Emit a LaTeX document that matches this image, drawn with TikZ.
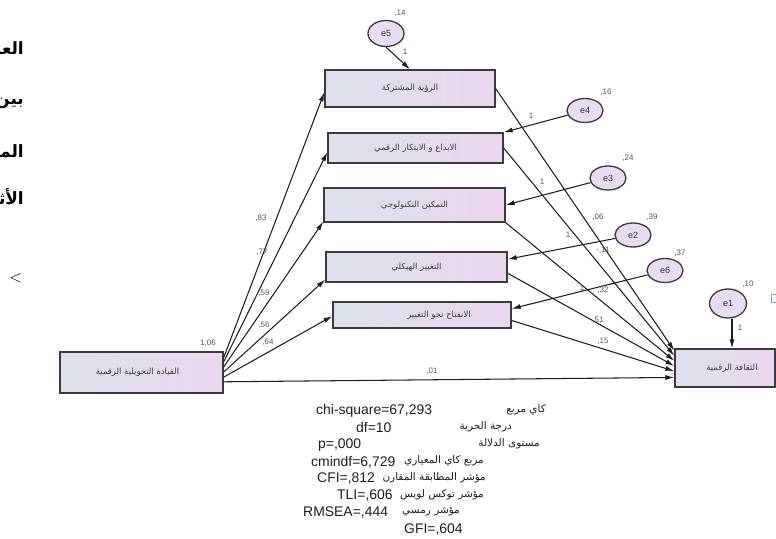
\documentclass[tikz,border=0pt]{standalone}
\usepackage{fontspec}
\setmainfont{Liberation Sans}
\newfontfamily\arabicfont[Script=Arabic]{DejaVu Sans}
\TeXXeTstate=1
\usetikzlibrary{arrows.meta,shapes.geometric,calc}

\definecolor{boxleft}{HTML}{DCE2EC}
\definecolor{boxright}{HTML}{EAD6EE}
\definecolor{boxedge}{HTML}{3A3A3A}
\definecolor{errfill}{HTML}{E7DDF0}
\definecolor{ink}{HTML}{1E1E1E}
\definecolor{numgray}{HTML}{555555}
\definecolor{tagblue}{HTML}{7FA7C9}

\newcommand{\artxt}[1]{{\arabicfont\beginR #1\endR}}

\tikzset{
  varbox/.style={draw=boxedge, line width=1.3bp, left color=boxleft, right color=boxright,
    inner sep=0pt, font=\fontsize{8.5}{9}\selectfont, text=black!75},
  errterm/.style={ellipse, draw=boxedge, line width=1.3bp, fill=errfill,
    minimum width=36bp, minimum height=26bp, inner sep=0pt,
    font=\fontsize{9}{10}\selectfont, text=black!80},
  conn/.style={draw=ink, line width=1.05bp, -{Latex[length=9bp,width=5bp]}},
  coef/.style={font=\fontsize{8}{8}\selectfont, text=numgray, inner sep=0pt},
  stat/.style={font=\fontsize{14}{15}\selectfont, text=ink, inner sep=0pt, anchor=west},
  statar/.style={font=\arabicfont\fontsize{10.5}{12}\selectfont, text=ink, inner sep=0pt, anchor=east},
  margintext/.style={font=\arabicfont\bfseries\fontsize{17}{20}\selectfont, inner sep=0pt, anchor=east}
}

\begin{document}
\begin{tikzpicture}[x=1bp,y=-1bp]
\path[use as bounding box] (0,0) rectangle (776,539);
\clip (0,0) rectangle (776,539);
\fill[white] (0,0) rectangle (776,539);

% running text of the page, cut at the left edge
\node[margintext] (m0) at (25,-4) {\beginR الفرضية\endR};
\node[margintext] (m1) at (24,48) {\beginR العلاقة\endR};
\node[margintext] (m2) at (24,103) {\beginR بين\endR};
\node[margintext] (m3) at (24,153) {\beginR المتغيرات\endR};
\node[margintext] (m4) at (24,199) {\beginR الأثر\endR};
\node[font=\fontsize{16}{16}\selectfont, inner sep=0pt] (m5) at (16,278) {$<$};

% observed variables
\node[varbox, minimum width=170bp, minimum height=37bp] (b1) at (410,88.5) {\artxt{الرؤية المشتركة}};
\node[varbox, minimum width=175bp, minimum height=30bp] (b2) at (415.5,148) {\artxt{الابداع و الابتكار الرقمي}};
\node[varbox, minimum width=181bp, minimum height=34bp] (b3) at (414.5,205) {\artxt{التمكين التكنولوجي}};
\node[varbox, minimum width=181bp, minimum height=30bp] (b4) at (416.5,267) {\artxt{التغيير الهيكلي}};
\node[varbox, minimum width=178bp, minimum height=26bp] (b5) at (422,315) {\hspace*{34bp}\artxt{الانفتاح نحو التغيير}};
\node[varbox, minimum width=163bp, minimum height=41bp] (b6) at (141.5,372.5) {\artxt{القيادة التحويلية الرقمية}\hspace*{8bp}};
\node[varbox, minimum width=100bp, minimum height=38bp] (b7) at (725,368) {\hspace*{14bp}\artxt{الثقافة الرقمية}};
\node[draw=tagblue, line width=0.9bp, minimum size=8bp, inner sep=0pt] (tag) at (775,298) {};

% error terms
\node[errterm] (e5) at (386,33.5) {e5};
\node[errterm, minimum height=24bp] (e4) at (585,110.5) {e4};
\node[errterm, minimum height=24bp] (e3) at (608,178) {e3};
\node[errterm, minimum height=24bp] (e2) at (633,235) {e2};
\node[errterm, minimum height=24bp] (e6) at (665,270.5) {e6};
\node[errterm, minimum width=37bp, minimum height=29bp] (e1) at (728,303.5) {e1};

% error paths
\draw[conn] (e5.south) -- (b1.north);
\draw[conn] (e4) -- (b2.north east);
\draw[conn] (e3) -- (b3.east);
\draw[conn] (e2) -- ($(b4.north east)!0.25!(b4.south east)$);
\draw[conn] (e6) -- ($(b5.north east)!0.27!(b5.south east)$);
\draw[conn] ([xshift=4bp]e1.south) -- ([xshift=4bp]e1.south |- b7.north);

% paths from the exogenous variable
\draw[conn] ($(b6.north east)!0.15!(b6.south east)$) -- ($(b1.north west)!0.6!(b1.south west)$);
\draw[conn] ($(b6.north east)!0.25!(b6.south east)$) -- ($(b2.north west)!0.63!(b2.south west)$);
\draw[conn] ($(b6.north east)!0.37!(b6.south east)$) -- ($(b3.north west)!0.97!(b3.south west)$);
\draw[conn] ($(b6.north east)!0.49!(b6.south east)$) -- ($(b4.north west)!0.9!(b4.south west)$);
\draw[conn] ($(b6.north east)!0.61!(b6.south east)$) -- ($(b5.north west)!0.54!(b5.south west)$);
\draw[conn] ($(b6.north east)!0.72!(b6.south east)$) -- ($(b7.north west)!0.74!(b7.south west)$);

% paths into the outcome variable
\draw[conn] (b1.east) -- ($(b7.north west)!0.06!(b7.south west)$);
\draw[conn] (b2.east) -- ($(b7.north west)!0.19!(b7.south west)$);
\draw[conn] (b3.south east) -- ($(b7.north west)!0.32!(b7.south west)$);
\draw[conn] ($(b4.north east)!0.7!(b4.south east)$) -- ($(b7.north west)!0.45!(b7.south west)$);
\draw[conn] ($(b5.north east)!0.7!(b5.south east)$) -- ($(b7.north west)!0.58!(b7.south west)$);

% variances
\node[coef] (v5) at (400,13) {,14};
\node[coef] (v4) at (606,92) {,16};
\node[coef] (v3) at (628,158) {,24};
\node[coef] (v2) at (652,217) {,39};
\node[coef] (v6) at (680,253) {,37};
\node[coef] (v1) at (748,284) {,10};
\node[coef] (v0) at (208,343) {1,06};

% fixed loadings of the error terms
\node[coef] (f5) at (405,52) {1};
\node[coef] (f4) at (531,116) {1};
\node[coef] (f3) at (542,182) {1};
\node[coef] (f2) at (568,235) {1};
\node[coef] (f6) at (582,288) {1};
\node[coef] (f1) at (740,328) {1};

% path coefficients
\node[coef] (c1) at (261,218) {,83};
\node[coef] (c2) at (262,252) {,77};
\node[coef] (c3) at (264,293) {,59};
\node[coef] (c4) at (264,325) {,56};
\node[coef] (c5) at (268,342) {,64};
\node[coef] (d1) at (598,217) {,06};
\node[coef] (d2) at (603,250) {-,11};
\node[coef] (d3) at (603,290) {,32};
\node[coef] (d4) at (598,320) {,51};
\node[coef] (d5) at (603,341) {,15};
\node[coef] (d6) at (432,371) {,01};

% fit indices
\node[stat] (s1) at (316,411) {chi-square=67,293};
\node[statar] (a1) at (546,410) {\beginR كاي مربع\endR};
\node[stat] (s2) at (356,428) {df=10};
\node[statar] (a2) at (512,427) {\beginR درجة الحرية\endR};
\node[stat] (s3) at (318,445) {p=,000};
\node[statar] (a3) at (540,444) {\beginR مستوى الدلالة\endR};
\node[stat] (s4) at (311,462) {cmindf=6,729};
\node[statar] (a4) at (484,461) {\beginR مربع كاي المعياري\endR};
\node[stat] (s5) at (317,479) {CFI=,812};
\node[statar] (a5) at (486,478) {\beginR مؤشر المطابقة المقارن\endR};
\node[stat] (s6) at (337,496) {TLI=,606};
\node[statar] (a6) at (484,495) {\beginR مؤشر توكس لويس\endR};
\node[stat] (s7) at (303,513) {RMSEA=,444};
\node[statar] (a7) at (460,512) {\beginR مؤشر رمسي\endR};
\node[stat] (s8) at (404,530) {GFI=,604};
\end{tikzpicture}
\end{document}
